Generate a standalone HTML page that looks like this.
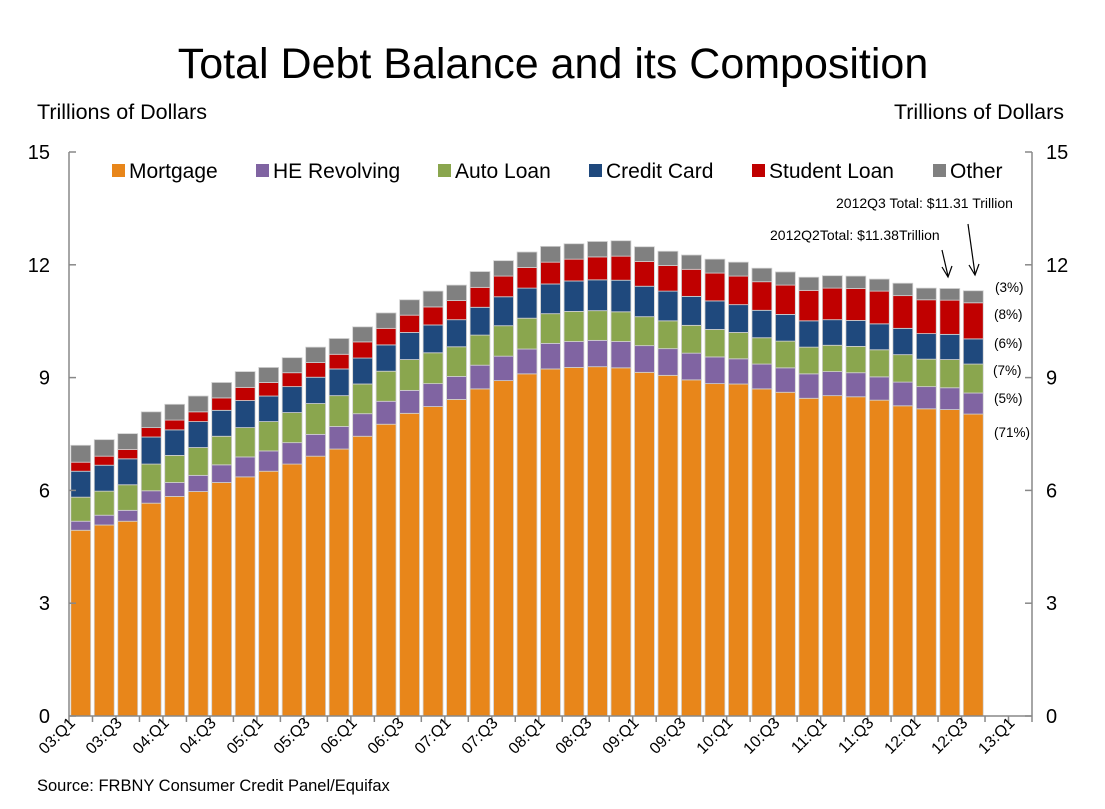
<!DOCTYPE html>
<html><head><meta charset="utf-8"><style>
body{margin:0;background:#fff;}
svg text{font-family:"Liberation Sans",Arial,sans-serif;fill:#000;}
</style></head><body>
<svg id="chart" width="1105" height="804" viewBox="0 0 1105 804" xmlns="http://www.w3.org/2000/svg">
<text x="553" y="78" font-size="43" text-anchor="middle">Total Debt Balance and its Composition</text>
<text x="37" y="119" font-size="21.5">Trillions of Dollars</text>
<text x="1064" y="119" font-size="21.5" text-anchor="end">Trillions of Dollars</text>
<g id="bars"></g>
<g id="axes"></g>
<g id="legend"></g>
<text x="836" y="208" font-size="14">2012Q3 Total: $11.31 Trillion</text>
<text x="770" y="240" font-size="14">2012Q2Total: $11.38Trillion</text>
<line x1="968" y1="224" x2="975" y2="274" stroke="#000" stroke-width="1.2"/>
<polyline points="969,265 975,275 979,264" fill="none" stroke="#000" stroke-width="1.2"/>
<line x1="942" y1="250" x2="948" y2="276" stroke="#000" stroke-width="1.2"/>
<polyline points="942,267 948,277 952,266" fill="none" stroke="#000" stroke-width="1.2"/>
<g font-size="13.5">
<text x="995" y="292">(3%)</text>
<text x="994" y="319">(8%)</text>
<text x="994" y="348">(6%)</text>
<text x="993" y="375">(7%)</text>
<text x="994" y="403">(5%)</text>
<text x="994" y="437">(71%)</text>
</g>
<text x="37" y="791" font-size="16.5">Source: FRBNY Consumer Credit Panel/Equifax</text>
</svg>
<script>
const quarters=["03:Q1","03:Q2","03:Q3","03:Q4","04:Q1","04:Q2","04:Q3","04:Q4","05:Q1","05:Q2","05:Q3","05:Q4","06:Q1","06:Q2","06:Q3","06:Q4","07:Q1","07:Q2","07:Q3","07:Q4","08:Q1","08:Q2","08:Q3","08:Q4","09:Q1","09:Q2","09:Q3","09:Q4","10:Q1","10:Q2","10:Q3","10:Q4","11:Q1","11:Q2","11:Q3","11:Q4","12:Q1","12:Q2","12:Q3","12:Q4","13:Q1"];
const mortgage=[4.94,5.08,5.18,5.66,5.84,5.97,6.21,6.36,6.51,6.70,6.91,7.10,7.44,7.76,8.05,8.23,8.42,8.70,8.92,9.10,9.23,9.27,9.29,9.26,9.14,9.06,8.94,8.84,8.83,8.70,8.61,8.45,8.52,8.49,8.40,8.25,8.17,8.15,8.03];
const heRevolving=[0.24,0.26,0.29,0.33,0.37,0.43,0.47,0.53,0.54,0.57,0.58,0.60,0.60,0.61,0.61,0.61,0.61,0.63,0.65,0.66,0.68,0.69,0.70,0.70,0.71,0.71,0.71,0.71,0.67,0.66,0.65,0.65,0.64,0.64,0.62,0.63,0.59,0.58,0.56];
const autoLoan=[0.64,0.64,0.68,0.71,0.72,0.74,0.76,0.78,0.78,0.80,0.82,0.82,0.79,0.80,0.82,0.82,0.79,0.80,0.81,0.82,0.79,0.80,0.79,0.79,0.77,0.74,0.74,0.73,0.70,0.70,0.71,0.71,0.70,0.70,0.72,0.73,0.73,0.75,0.77];
const creditCard=[0.69,0.69,0.69,0.72,0.68,0.69,0.69,0.72,0.68,0.69,0.70,0.71,0.69,0.70,0.72,0.74,0.72,0.74,0.77,0.80,0.79,0.81,0.82,0.84,0.81,0.79,0.77,0.76,0.74,0.73,0.71,0.70,0.68,0.69,0.69,0.70,0.68,0.67,0.67];
const studentLoan=[0.24,0.24,0.25,0.25,0.26,0.26,0.33,0.35,0.36,0.37,0.39,0.39,0.43,0.44,0.46,0.48,0.51,0.53,0.55,0.55,0.58,0.58,0.61,0.64,0.66,0.68,0.72,0.74,0.76,0.76,0.78,0.81,0.84,0.85,0.87,0.87,0.90,0.91,0.96];
const other=[0.45,0.44,0.42,0.42,0.42,0.42,0.41,0.42,0.40,0.40,0.41,0.42,0.40,0.41,0.41,0.42,0.41,0.42,0.41,0.41,0.42,0.41,0.41,0.41,0.39,0.38,0.38,0.37,0.37,0.36,0.35,0.35,0.33,0.33,0.32,0.33,0.31,0.31,0.32];
const seriesNames=["Mortgage","HE Revolving","Auto Loan","Credit Card","Student Loan","Other"];
const yTicks=[0,3,6,9,12,15];

const NS="http://www.w3.org/2000/svg";
const colors=["#E8861A","#8064A2","#8AA64E","#1F497D","#C00000","#808080"];
const series=[mortgage,heRevolving,autoLoan,creditCard,studentLoan,other];
const X0=69,X1=1032,Y0=716,Y1=152,YMAX=15;
const slot=(X1-X0)/quarters.length;
const y=v=>Y0-(v/YMAX)*(Y0-Y1);
const xs=i=>X0+i*slot;
function mk(tag,attrs,parent){const e=document.createElementNS(NS,tag);for(const k in attrs)e.setAttribute(k,attrs[k]);parent.appendChild(e);return e;}
const bars=document.getElementById('bars');
for(let i=0;i<mortgage.length;i++){
  let base=0;
  for(let s=0;s<series.length;s++){
    const v=series[s][i];
    const r=mk('rect',{x:xs(i)+1.8,y:y(base+v),width:slot-3.6,height:y(base)-y(base+v),fill:colors[s],stroke:"#d0d0d0","stroke-width":0.8},bars);
    
    
    base+=v;
  }
}
const ax=document.getElementById('axes');
const st={stroke:"#888","stroke-width":1.5};
let l=mk('line',Object.assign({x1:X0,y1:Y1,x2:X0,y2:Y0},st),ax);


l=mk('line',Object.assign({x1:X1,y1:Y1,x2:X1,y2:Y0},st),ax);


l=mk('line',Object.assign({x1:X0,y1:Y0,x2:X1,y2:Y0},st),ax);


yTicks.forEach(t=>{
  mk('line',Object.assign({x1:X0,y1:y(t),x2:X0+7,y2:y(t)},st),ax);
  mk('line',Object.assign({x1:X1-7,y1:y(t),x2:X1,y2:y(t)},st),ax);
  const a=mk('text',{x:50,y:y(t)+7,"font-size":20,"text-anchor":"end"},ax);a.textContent=t;
  
  
  const b=mk('text',{x:1046,y:y(t)+7,"font-size":20},ax);b.textContent=t;
  
  
});
for(let i=0;i<=quarters.length;i++){mk('line',Object.assign({x1:xs(i),y1:Y0,x2:xs(i),y2:Y0+6},st),ax);}
quarters.forEach((q,i)=>{
  if(i%2)return;
  const px=xs(i)+7,py=724;
  const t=mk('text',{x:px,y:py,"font-size":16,"text-anchor":"end",transform:`rotate(-45 ${px} ${py})`},ax);
  t.textContent=q;
  
  
});
const lg=document.getElementById('legend');
const lx=[112,256,438,589,752,933];
seriesNames.forEach((n,s)=>{
  mk('rect',{x:lx[s],y:164,width:13,height:13,fill:colors[s]},lg);
  const t=mk('text',{x:lx[s]+17,y:178,"font-size":21},lg);
  t.textContent=n;
  
  
});
</script>
</body></html>
